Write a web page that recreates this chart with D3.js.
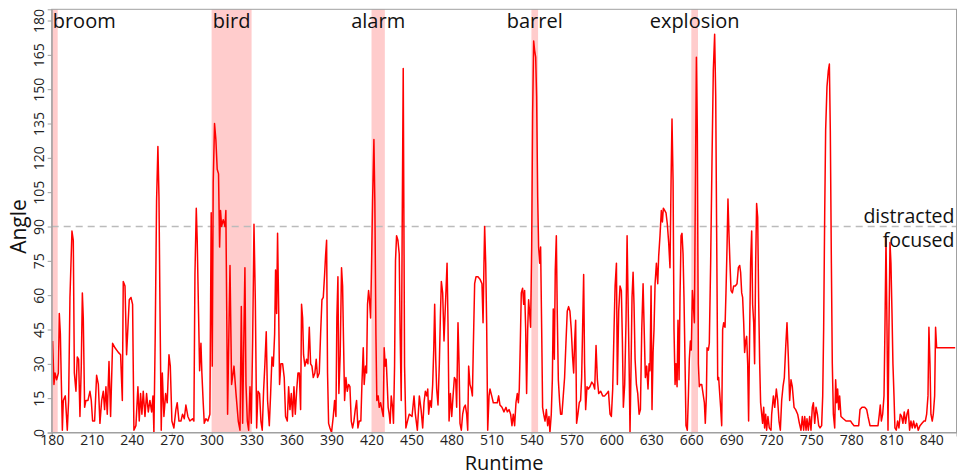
<!DOCTYPE html>
<html>
<head>
<meta charset="utf-8">
<script src="https://cdn.jsdelivr.net/npm/d3@7"></script>
<style>
  html, body { margin: 0; padding: 0; background: #fff; }
  svg { display: block; font-family: "Open Sans", "Noto Sans", sans-serif; }
</style>
</head>
<body>
<svg id="chart" width="957" height="475"></svg>
<script>
// ---- data ----
const runtime = [180.7,181.7,182.5,183.7,185,185.7,186.5,187.2,188,188.7,190.2,191.7,192.7,193.7,195.2,196.2,197,198.2,199.2,200.2,201.2,202.2,203,203.7,204.7,205.7,207.2,208.7,209.7,210.7,212.2,213.7,215,216.2,217.5,218.7,219.7,220.7,221.7,223,224.2,225.7,227.5,230,231.7,233,233.7,235,236.2,237.2,238.2,239.5,240.7,241.7,243.2,244.7,245.7,246.7,247.7,248.7,250,251.2,252.5,253.7,255,256,256.7,257.7,258.7,259.7,260.5,261.2,262.2,263,264.2,265.5,266.7,268,269,270.2,271.7,273.2,274.2,275.5,277,278.2,279.5,280.7,282.2,283.7,285.7,286.7,287.5,288.5,289.2,290.2,291,292,292.7,293.7,294.5,295.7,297.2,298.7,299.7,300.5,301.2,302.2,303.2,304.2,305.2,306,306.7,307.5,308.7,310,310.7,312,313.2,313.8,315,316.8,318.3,320,321.3,322.3,323.3,324.3,325,325.8,326.8,327.8,328.8,329.8,330.8,331.8,332.8,333.8,334.8,336,337,338,339,340,341,342,343.3,344.3,345.3,346.3,347.3,348,348.8,349.5,350.3,351,352,353.3,354.5,355.5,356.8,357.8,358.8,359.8,360.8,361.8,362.8,363.8,364.8,365.8,366.8,367.5,368.3,369,370,371.3,372.3,373.3,374.3,375.3,376.3,377.5,378.5,379.5,380.8,381.8,382.8,383.8,384.8,385.5,386.3,387,387.8,388.8,390,391.3,392.3,393.3,394,394.8,395.5,396.5,397.5,398.3,399,399.8,400.8,401.8,402.8,403.8,404.8,405.8,406.8,407.8,408.8,409.8,410.8,412,412.8,413.8,414.5,415.5,416.3,417,417.8,418.5,419.3,420,420.8,421.8,422.5,423.3,424,425,425.8,426.8,427.8,428.8,429.5,430.3,431,431.8,432.5,433.3,434,434.8,435.8,436.5,437.3,438,438.8,439.8,440.8,441.5,442.3,443,443.8,444.8,445.8,447,448.3,450.4,451.9,452.9,454.4,455.9,457.2,458.4,459.4,460.4,461.4,462.2,462.9,463.9,464.9,465.9,466.7,467.4,468.2,468.9,469.9,470.9,471.7,472.4,473.4,474.4,475.2,475.9,476.7,477.4,478.2,479.2,480.2,481.2,482.2,483.2,483.9,484.9,485.7,486.4,487.4,488.4,489.4,490.4,491.4,492.2,492.9,493.9,494.9,495.7,496.4,497.4,498.4,499.9,501.4,502.9,503.7,504.4,504.9,505.7,506.4,507.2,508.2,508.9,510.2,511.4,512.9,514.4,515.4,516.4,517.9,519.4,520.9,521.9,523.2,524.4,525.4,526.4,527.4,528.4,529.4,530.2,530.9,531.7,532.4,533.4,534.2,534.9,535.7,536.4,537.2,537.9,538.7,539.4,540.2,540.9,541.7,542.4,543.2,543.9,544.7,545.4,546.2,546.9,547.7,548.4,549.2,550.2,551.2,552.2,553.2,553.9,554.9,555.7,556.4,557.2,557.9,558.7,559.4,560.2,561.2,561.9,562.9,563.9,564.9,565.9,566.9,567.9,568.9,569.9,570.9,571.7,572.4,573.2,573.9,574.9,575.9,576.9,577.7,578.4,579.2,579.9,580.7,581.7,582.7,583.9,585.3,586.5,587.5,588.5,589.5,590.5,592,593.5,595,596.5,597.8,599,600,601,602,602.8,603.8,604.5,605.5,606.5,607.5,608.3,609,610,611,611.8,612.5,613.3,614,614.8,615.5,616.3,617,617.8,618.8,619.8,620.8,621.8,622.8,623.8,624.5,625.5,626.5,627.5,628.3,629,629.8,630.5,631.3,632,632.8,633.8,634.8,635.5,636.5,637.5,638.3,639,640,641,642,643,644,644.8,645.5,646.3,647,647.8,648.5,649.3,650,650.8,651.5,652.3,653,653.8,654.5,655.3,656,657,657.8,658.5,659.3,660,660.8,661.5,662.3,663,663.8,664.5,665.3,666,666.8,667.8,668.8,669.8,670.5,671.3,671.8,672.8,673.5,674.5,675.5,676.5,677.5,678.3,679,679.8,680.5,681.3,682,682.8,683.5,684.3,685.3,686,686.8,687.5,688.3,689,689.8,690.8,691.8,693,694.3,695.3,696.3,697,697.8,698.5,699.3,700,700.8,701.5,702.3,703,703.8,704.5,705.3,706,706.8,707.5,708.3,709,709.8,710.5,711.3,712,712.8,713.5,714.3,715,715.8,716.5,717.5,718.5,719.8,720.3,721.6,722.6,723.8,724.8,725.8,726.8,727.8,728.8,729.8,730.8,731.8,732.8,733.8,734.8,735.8,737.1,738.3,739.8,741.1,742.3,743.3,744.3,745.1,746.1,746.8,747.8,748.8,749.8,750.8,751.6,752.6,753.6,754.6,755.6,756.6,757.8,758.6,759.3,760.1,760.8,761.8,762.8,763.6,764.3,765.1,765.8,766.6,767.6,768.3,769.1,769.8,770.6,771.3,772.3,774.1,776.1,778.1,779.6,780.6,782.1,784.1,785.6,786.6,788.1,790.1,791.6,792.6,794.1,796.1,798.1,800.1,801.1,801.8,802.6,803.6,804.6,805.3,806.1,806.8,807.6,808.3,809.1,809.8,810.6,811.3,812.1,812.8,813.8,814.8,815.8,816.8,817.8,818.8,819.8,820.8,821.8,822.8,823.8,824.8,825.8,826.8,827.8,829.1,830.3,831.6,833.1,834.6,835.6,836.6,837.6,838.3,839.1,839.8,840.8,841.6,842.6,843.3,844.1,858];
const angle = [40,21,26,23,26,52,43,23,1,14,16,1,14,59,88,84,26,18,33,32,7,29,61,50,11,14,14,18,14,5,5,25,21,4,14,18,10,20,8,31,7,39,37,35,34,14,66,64,34,46,58,59,56,1,3,20,5,17,8,18,7,17,9,14,9,16,0,43,101,125,103,58,1,26,7,17,13,34,29,5,2,10,13,5,5,8,6,12,7,5,6,5,69,98,84,52,27,39,26,13,4,6,5,8,96,29,109,135,128,115,113,81,97,90,93,90,97,8,52,73,21,29,17,5,1,55,4,46,72,21,5,1,20,4,40,91,58,2,18,17,5,1,18,30,44,14,3,17,33,29,43,71,52,87,55,21,30,30,24,7,5,20,10,17,7,20,8,18,26,26,10,56,50,34,29,32,30,46,30,29,24,26,32,24,26,43,58,59,69,77,84,26,4,2,0,7,14,7,50,68,17,34,72,64,40,14,24,18,21,20,5,2,5,10,14,2,5,5,21,37,21,29,26,56,62,58,50,72,101,128,101,43,14,16,11,13,10,7,37,29,32,21,11,8,4,16,11,4,29,75,86,84,78,43,14,87,159,29,2,5,8,7,16,8,1,16,10,2,13,18,16,19,8,14,11,21,36,56,32,19,12,30,51,66,61,40,52,62,74,48,5,17,7,16,24,23,11,48,30,4,1,8,11,12,8,1,29,21,19,16,37,65,68,68,67,65,48,74,90,74,48,1,16,19,16,13,13,13,16,12,11,9,11,9,10,8,3,8,3,13,17,13,19,40,61,63,56,62,45,17,45,58,52,46,81,139,171,167,164,147,103,81,74,81,45,11,8,5,10,3,7,0,8,23,54,32,71,86,52,23,13,8,8,16,24,39,53,55,53,45,33,26,39,49,4,8,13,14,24,45,69,30,10,20,19,20,22,21,19,38,23,17,18,16,16,17,18,8,7,19,45,64,74,21,53,64,62,39,11,21,49,86,59,30,0,30,59,70,56,32,21,17,8,10,45,65,48,24,29,19,30,27,64,10,35,45,65,74,65,77,86,97,92,98,97,96,91,83,72,110,137,110,45,21,30,20,49,23,59,86,87,78,59,30,3,1,16,32,40,36,62,56,48,103,164,132,30,20,21,21,17,13,4,16,37,36,39,74,118,158,174,147,88,23,24,17,11,3,45,48,46,61,81,102,86,74,62,61,64,64,65,72,73,70,61,59,48,35,40,42,30,5,45,74,88,56,48,30,74,100,94,59,30,13,8,4,11,2,8,1,7,2,1,8,16,11,19,14,5,1,14,20,24,37,48,33,14,23,20,11,10,8,4,1,7,1,7,1,6,1,7,1,11,13,4,11,8,3,2,3,16,45,96,132,151,158,161,132,74,30,8,2,23,13,19,10,16,7,6,5,5,5,4,3,3,3,10,11,11,10,7,3,3,3,3,8,12,5,8,16,45,85,48,1,45,83,74,52,30,16,2,1,5,2,8,7,4,9,4,8,10,1,5,2,5,2,4,1,3,4,5,5,8,16,46,30,8,5,8,16,46,37,37];

const events = ["broom", "bird", "alarm", "barrel", "explosion"];
const eventStart = [180, 300, 420, 540, 660];
const eventEnd = [184.5, 330, 430, 545, 665];

const xTicks = [180,210,240,270,300,330,360,390,420,450,480,510,540,570,600,630,660,690,720,750,780,810,840];
const yTicks = [0,15,30,45,60,75,90,105,120,135,150,165,180];
const threshold = 90;
const thresholdLabels = ["distracted", "focused"];

// ---- layout ----
const svg = d3.select("#chart");
const L = 51.7, R = 956.5, T = 9.3, B = 432.5;

const x = d3.scaleLinear().domain([180, 859]).range([L, R]);
const y = d3.scaleLinear().domain([0, 184.9]).range([B, T]);

// shaded event regions
svg.append("g").selectAll("rect").data(events).join("rect")
  .attr("x", (d, i) => x(eventStart[i]))
  .attr("width", (d, i) => x(eventEnd[i]) - x(eventStart[i]))
  .attr("y", T).attr("height", B - T)
  .attr("fill", "#ffcccc");

// threshold dashed line
svg.append("line")
  .attr("x1", L).attr("x2", R)
  .attr("y1", y(threshold)).attr("y2", y(threshold))
  .attr("stroke", "#bbbbbb").attr("stroke-width", 1.5)
  .attr("stroke-dasharray", "7,5");

// data line
const pts = runtime.map((r, i) => [r, angle[i]]);
svg.append("path")
  .attr("d", d3.line().x(d => x(d[0])).y(d => y(d[1]))(pts))
  .attr("fill", "none").attr("stroke", "#ff0000").attr("stroke-width", 1.5)
  .attr("stroke-linejoin", "round");

// frame
svg.append("rect")
  .attr("x", L).attr("y", T).attr("width", R - L).attr("height", B - T)
  .attr("fill", "none").attr("stroke", "#a0a0a0").attr("stroke-width", 1);

// x axis
const xAxis = svg.append("g").attr("transform", `translate(0,${B})`)
  .call(d3.axisBottom(x).tickValues(xTicks).tickSize(4).tickPadding(3).tickFormat(d3.format("d")));
xAxis.select(".domain").attr("stroke", "#a0a0a0");
xAxis.selectAll(".tick line").attr("stroke", "#a0a0a0");
xAxis.selectAll(".tick text").attr("font-size", 14).attr("fill", "#222")
  .attr("font-family", "Open Sans").attr("dy", null).attr("y", 12.5);

// y axis
const yAxis = svg.append("g").attr("transform", `translate(${L},0)`)
  .call(d3.axisLeft(y).tickValues(yTicks).tickSize(4).tickFormat(d3.format("d")));
yAxis.select(".domain").attr("stroke", "#a0a0a0");
yAxis.selectAll(".tick line").attr("stroke", "#a0a0a0");
yAxis.selectAll(".tick text")
  .attr("x", null).attr("dy", null)
  .attr("font-size", 14).attr("fill", "#222").attr("font-family", "Open Sans")
  .attr("text-anchor", "middle")
  .attr("transform", "translate(-8,0) rotate(-90)");

// axis titles
svg.append("text").attr("x", (L + R) / 2).attr("y", 470)
  .attr("text-anchor", "middle").attr("font-size", 20).attr("fill", "#111")
  .text("Runtime");
svg.append("text")
  .attr("transform", `translate(26,${(y(0) + y(180)) / 2}) rotate(-90)`)
  .attr("text-anchor", "middle").attr("font-size", 21).attr("fill", "#111")
  .text("Angle");

// event labels
svg.append("g").selectAll("text").data(events).join("text")
  .attr("font-size", 20).attr("fill", "#111")
  .attr("y", 28)
  .text(d => d)
  .each(function (d, i) {
    const w = this.getComputedTextLength();
    const c = (x(eventStart[i]) + x(eventEnd[i])) / 2;
    const left = Math.max(L + 1, c - w / 2);
    d3.select(this).attr("x", left);
  });

// threshold labels
svg.append("text").attr("x", R - 2).attr("y", y(threshold) - 4)
  .attr("text-anchor", "end").attr("font-size", 19.5).attr("fill", "#111")
  .text(thresholdLabels[0]);
svg.append("text").attr("x", R - 2).attr("y", y(threshold) + 20.5)
  .attr("text-anchor", "end").attr("font-size", 19.5).attr("fill", "#111")
  .text(thresholdLabels[1]);
</script>
</body>
</html>
